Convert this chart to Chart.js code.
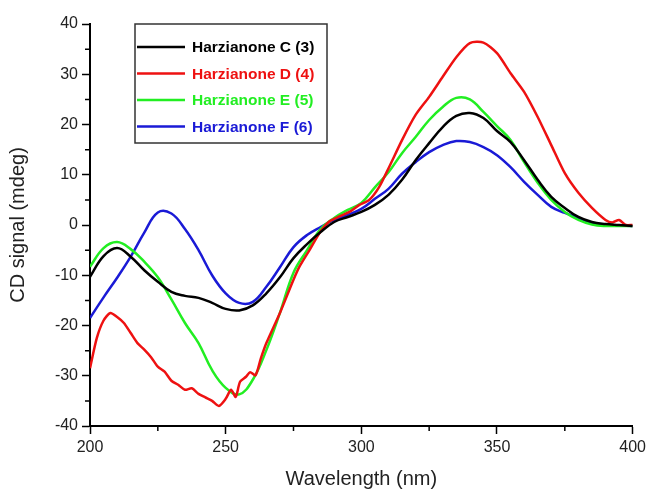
<!DOCTYPE html>
<html>
<head>
<meta charset="utf-8">
<script src="https://cdn.jsdelivr.net/npm/chart.js@4.4.1/dist/chart.umd.min.js"></script>
<style>
  html, body { margin: 0; padding: 0; background: #fff; }
  #wrap { width: 650px; height: 492px; }
</style>
</head>
<body>
<div id="wrap"><canvas id="cd"></canvas></div>
<script>
// wavelength grid (nm), 5 nm steps
const wavelength = [200,205,210,215,220,225,230,235,240,245,250,255,260,265,270,275,280,285,290,295,
  300,305,310,315,320,325,330,335,340,345,350,355,360,365,370,375,380,385,390,395,400];

// Harzianone C (3)
const signalC = [-10.3,-6.2,-4.6,-6.3,-9,-11.3,-13.3,-14.1,-14.5,-15.5,-16.7,-17,-16,-13.6,-10.4,-6.6,-3.8,-1.4,0.6,1.6,
  2.6,4,6,9,12.9,16.3,19.5,21.7,22.3,21.3,18.7,16.5,12.9,9,5.6,3.4,1.6,0.6,0.2,0,-0.2];

// Harzianone D (4) - noisier trace, own wavelength grid
const wavelengthD = [200,202.5,205,207.5,210,212.5,215,217.5,220,222.5,225,227.5,230,232.5,235,237.5,240,242.5,245,247.5,
  250,252,253.7,255.3,257.5,259,261,263,265,270,275,277.2,280.9,284.6,288.2,291.9,295.6,299.3,302.9,306.6,310.3,
  315,320,325,330,335,340,345,350,355,360,365,370,375,380,385,390,392.5,395,397.5,400];
const signalD = [-28.5,-22.5,-19,-17.5,-18.3,-19.5,-21.5,-23.5,-24.8,-26.3,-28.2,-29.2,-31,-31.8,-32.8,-32.5,-33.6,-34.3,-35,-36,
  -34.6,-32.8,-34.2,-31.2,-30.2,-29.3,-29.9,-26.5,-23.5,-17.5,-10.9,-8.3,-5,-1.6,0.7,1.7,2.6,4,5,7.6,11.6,
  16.9,21.9,25.5,29.5,33.4,36.2,36.3,34.2,30.2,26.5,21.5,15.9,10.3,6.4,3.4,1,0.5,1,0,0];

// Harzianone E (5)
const signalE = [-8.3,-4.6,-3.4,-4.8,-7.3,-10.4,-14.8,-19.5,-23.5,-28.9,-32.4,-33.7,-30.8,-24.9,-17.5,-9.5,-5,-0.8,1.4,3,
  4.4,7.5,10.5,14.3,17.5,20.9,23.5,25.3,25,22.5,19.7,16.9,12.5,8.4,5,2.6,1,0.1,-0.2,-0.2,-0.2];

// Harzianone F (6)
const signalF = [-18.5,-14.4,-10.5,-6.3,-1.5,2.5,2.3,-0.8,-5,-10,-13.6,-15.5,-15.3,-12.3,-8.4,-4.4,-2,-0.4,1,2,
  3.2,5.2,7.2,10.2,12.5,14.5,15.9,16.7,16.5,15.5,13.9,11.5,8.6,6,3.6,2.4,1.4,0.4,0,-0.1,-0.2];

const seriesNames = ["Harzianone C (3)", "Harzianone D (4)", "Harzianone E (5)", "Harzianone F (6)"];
const seriesColors = ["#000000", "#ee1111", "#22ee22", "#1a1ad6"];

const xTicks = [200, 250, 300, 350, 400];
const yTicks = [-40, -30, -20, -10, 0, 10, 20, 30, 40];

const pts = (xs, ys) => xs.map((x, i) => ({ x: x, y: ys[i] }));

// minor ticks + boxed legend, Origin style
const extras = {
  id: "extras",
  afterDraw(chart) {
    const ctx = chart.ctx;
    const xs = chart.scales.x, ys = chart.scales.y;
    const area = chart.chartArea;
    ctx.save();
    ctx.strokeStyle = "#000";
    ctx.lineWidth = 1.5;
    ctx.beginPath();
    for (let v = xs.min + 25; v < xs.max; v += 50) {
      const px = xs.getPixelForValue(v);
      ctx.moveTo(px, area.bottom);
      ctx.lineTo(px, area.bottom + 5);
    }
    for (let v = ys.min + 5; v < ys.max; v += 10) {
      const py = ys.getPixelForValue(v);
      ctx.moveTo(area.left, py);
      ctx.lineTo(area.left - 5, py);
    }
    ctx.stroke();

    // legend box
    const bx = area.left + 45, by = area.top, bw = 192, bh = 119;
    ctx.strokeStyle = "#333";
    ctx.lineWidth = 1.5;
    ctx.strokeRect(bx, by, bw, bh);
    ctx.font = "bold 15.5px 'Liberation Sans', Arial, sans-serif";
    ctx.textBaseline = "middle";
    chart.data.datasets.forEach((ds, i) => {
      const ry = by + 23 + i * 26.5;
      ctx.strokeStyle = ds.borderColor;
      ctx.lineWidth = 2.5;
      ctx.beginPath();
      ctx.moveTo(bx + 2, ry);
      ctx.lineTo(bx + 50, ry);
      ctx.stroke();
      ctx.fillStyle = ds.borderColor;
      ctx.fillText(ds.label, bx + 57, ry + 1);
    });
    ctx.restore();
  }
};

const tickFont = { family: "'Liberation Sans', Arial, sans-serif", size: 16 };
const titleFont = { family: "'Liberation Sans', Arial, sans-serif", size: 20 };

new Chart(document.getElementById("cd"), {
  type: "line",
  data: {
    datasets: [
      { label: seriesNames[0], data: pts(wavelength, signalC), borderColor: seriesColors[0] },
      { label: seriesNames[1], data: pts(wavelengthD, signalD), borderColor: seriesColors[1], tension: 0.25 },
      { label: seriesNames[2], data: pts(wavelength, signalE), borderColor: seriesColors[2] },
      { label: seriesNames[3], data: pts(wavelength, signalF), borderColor: seriesColors[3] }
    ]
  },
  options: {
    responsive: true,
    maintainAspectRatio: false,
    animation: false,
    layout: { padding: { left: 0, right: 16, top: 24, bottom: 0 } },
    elements: {
      point: { radius: 0 },
      line: { borderWidth: 2.5, tension: 0.4, fill: false }
    },
    plugins: { legend: { display: false }, tooltip: { enabled: false } },
    scales: {
      x: {
        type: "linear",
        min: 200, max: 400,
        afterBuildTicks: s => { s.ticks = xTicks.map(v => ({ value: v })); },
        afterFit: s => { s.height = 66; },
        border: { color: "#000", width: 2 },
        grid: { drawOnChartArea: false, drawTicks: true, tickLength: 8, tickColor: "#000", tickWidth: 1.5 },
        ticks: { font: tickFont, color: "#222", padding: 4, maxRotation: 0 },
        title: { display: true, text: "Wavelength (nm)", font: titleFont, color: "#222", padding: { top: 0, bottom: 1 } }
      },
      y: {
        min: -40, max: 40,
        afterBuildTicks: s => { s.ticks = yTicks.map(v => ({ value: v })); },
        afterFit: s => { s.width = 90; },
        border: { color: "#000", width: 2 },
        grid: { drawOnChartArea: false, drawTicks: true, tickLength: 8, tickColor: "#000", tickWidth: 1.5 },
        ticks: { font: tickFont, color: "#222", padding: 4 },
        title: { display: true, text: "CD signal (mdeg)", font: titleFont, color: "#222", padding: { top: 6, bottom: 0 } }
      }
    }
  },
  plugins: [extras]
});
</script>
</body>
</html>
